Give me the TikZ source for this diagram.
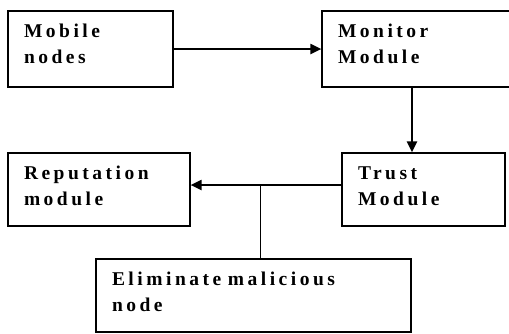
\documentclass[tikz,border=0pt]{standalone}
\usepackage{fontspec}
\setmainfont{Liberation Serif}
\newfontfamily\boxfont[LetterSpace=18]{Liberation Serif}
\newcommand\blockfont{\boxfont\bfseries\fontsize{19.5}{26}\selectfont\spaceskip 8pt\relax}
\usetikzlibrary{arrows.meta, positioning}

\begin{document}
\begin{tikzpicture}[x=1pt, y=-1pt, >={Triangle[length=11pt, width=10pt]},
    block/.style={draw, rectangle, line width=1.2pt, align=left, inner xsep=16pt, inner ysep=10pt,
        text height=16pt, text depth=40pt, font=\blockfont},
    link/.style={->, line width=2pt}]
    \useasboundingbox (0,0) rectangle (509,333);

    \node[block, text width=133pt] (mobile) at (90.5,49) {Mobile\\nodes};
    \node[block, text width=158pt] (monitor) at (417,49) {Monitor\\Module};
    \node[block, text width=150pt, text depth=37pt] (reput) at (99,189.5) {Reputation\\module};
    \node[block, text width=131pt, text depth=37pt] (trust) at (423.5,189.5) {Trust\\Module};
    \node[block, text width=283pt, text depth=37pt] (elim) at (253.5,295.5) {Eliminate malicious\\node};
    \coordinate (split) at (260,185);

    \draw[link] (mobile.east) -- (monitor.west);
    \draw[link, line width=2.5pt] ([xshift=-5pt]monitor.south) -- ([xshift=-5pt]monitor.south |- trust.north);
    \draw[link] ([yshift=4.5pt]trust.west) -- ([yshift=4.5pt]trust.west -| reput.east);
    \draw[line width=1pt] (split) -- (split |- elim.north);
\end{tikzpicture}
\end{document}
